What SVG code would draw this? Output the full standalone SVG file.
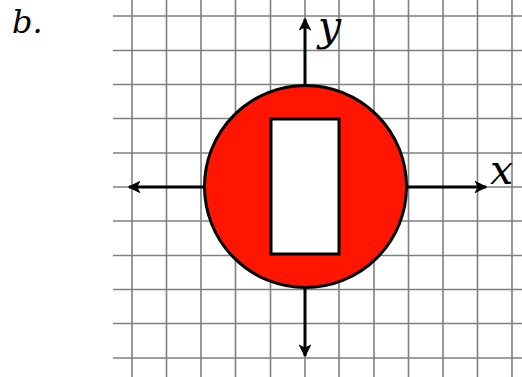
<svg xmlns="http://www.w3.org/2000/svg" width="522" height="377" viewBox="0 0 522 377">
<style>
.grid line{stroke:#7f7f7f;stroke-width:1.6}
.axis{stroke:#000;stroke-width:3;fill:none}
.lbl{font-family:"DejaVu Serif","Liberation Serif",serif;font-style:italic;fill:#000}
</style>
<defs>
<marker id="ah" viewBox="0 0 10 10" refX="9" refY="5" markerWidth="4.3" markerHeight="4.3" markerUnits="strokeWidth" orient="auto">
<path d="M0,0 L10,5 L0,10 L2.5,5 Z" fill="#000"/>
</marker>
</defs>
<rect width="522" height="377" fill="#fff"/>
<g class="grid" id="grid">
<line x1="132" y1="0" x2="132" y2="377"/>
<line x1="166.5" y1="0" x2="166.5" y2="377"/>
<line x1="201" y1="0" x2="201" y2="377"/>
<line x1="235.5" y1="0" x2="235.5" y2="377"/>
<line x1="270.5" y1="0" x2="270.5" y2="377"/>
<line x1="305" y1="0" x2="305" y2="377"/>
<line x1="339" y1="0" x2="339" y2="377"/>
<line x1="374" y1="0" x2="374" y2="377"/>
<line x1="408.5" y1="0" x2="408.5" y2="377"/>
<line x1="443" y1="0" x2="443" y2="377"/>
<line x1="477.5" y1="0" x2="477.5" y2="377"/>
<line x1="512" y1="0" x2="512" y2="377"/>
<line x1="113" y1="16" x2="522" y2="16"/>
<line x1="113" y1="50.5" x2="522" y2="50.5"/>
<line x1="113" y1="84.5" x2="522" y2="84.5"/>
<line x1="113" y1="118.5" x2="522" y2="118.5"/>
<line x1="113" y1="153" x2="522" y2="153"/>
<line x1="113" y1="187" x2="522" y2="187"/>
<line x1="113" y1="221" x2="522" y2="221"/>
<line x1="113" y1="255.5" x2="522" y2="255.5"/>
<line x1="113" y1="289.5" x2="522" y2="289.5"/>
<line x1="113" y1="323.5" x2="522" y2="323.5"/>
<line x1="113" y1="358" x2="522" y2="358"/>
</g>
<g id="axes">
<line class="axis" x1="305" y1="187" x2="486" y2="187" marker-end="url(#ah)"/>
<line class="axis" x1="305" y1="187" x2="129" y2="187" marker-end="url(#ah)"/>
<line class="axis" x1="305" y1="187" x2="305" y2="19" marker-end="url(#ah)"/>
<line class="axis" x1="305" y1="187" x2="305" y2="356" marker-end="url(#ah)"/>
</g>
<g id="circle">
<circle cx="305.5" cy="186.5" r="101" fill="#ff1500" stroke="#000" stroke-width="3"/>
</g>
<g id="rect">
<rect x="271" y="119" width="68" height="135" fill="#fff" stroke="#000" stroke-width="3"/>
</g>
<text class="lbl" x="318" y="40" font-size="41">y</text>
<text class="lbl" x="490" y="184" font-size="41">x</text>
<text class="lbl" x="12" y="33" font-size="32">b.</text>
</svg>
